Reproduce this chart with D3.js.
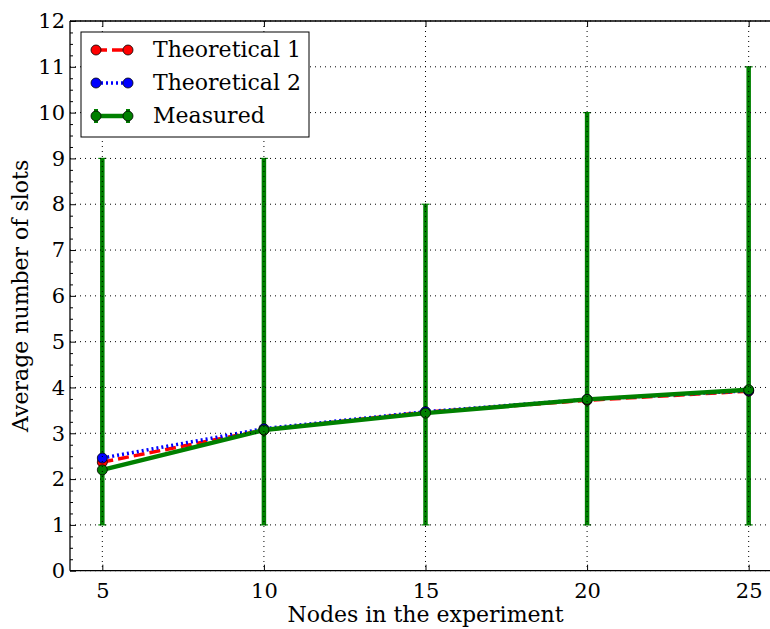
<!DOCTYPE html>
<html><head><meta charset="utf-8">
<script src="https://cdn.jsdelivr.net/npm/d3@7/dist/d3.min.js"></script>
<style>body{margin:0;background:#fff;} svg{display:block;} text{font-family:"DejaVu Serif",serif;}</style>
</head><body>
<svg id="c" width="770" height="629"></svg>
<script>
const nodes = [5, 10, 15, 20, 25];
const theoretical1 = [2.37, 3.07, 3.46, 3.72, 3.92];
const theoretical2 = [2.46, 3.10, 3.47, 3.74, 3.93];
const measured = [2.2, 3.07, 3.44, 3.74, 3.95];
const measuredLow = [1, 1, 1, 1, 1];
const measuredHigh = [9, 9, 8, 10, 11];
const xTicks = [5, 10, 15, 20, 25];
const yTicks = [0,1,2,3,4,5,6,7,8,9,10,11,12];
const seriesNames = ["Theoretical 1", "Theoretical 2", "Measured"];

const svg = d3.select("#c");
const L = 70, R = 781, T = 21, B = 570.7;
const x = d3.scaleLinear().domain([4, 26]).range([L, R]);
const y = d3.scaleLinear().domain([0, 12]).range([B, T]);
const green = "#008000";

const plot = svg.append("g");
// error bars
nodes.forEach((n, i) => {
  plot.append("line").attr("x1", x(n)).attr("x2", x(n))
    .attr("y1", y(measuredLow[i])).attr("y2", y(measuredHigh[i]))
    .attr("stroke", green).attr("stroke-width", 4.5);
  [measuredLow[i], measuredHigh[i]].forEach(v => {
    plot.append("line").attr("x1", x(n) - 4).attr("x2", x(n) + 4)
      .attr("y1", y(v)).attr("y2", y(v)).attr("stroke", green).attr("stroke-width", 1.2);
  });
});
const line = d3.line().x((d, i) => x(nodes[i])).y(d => y(d));
function series(vals, color, width, dash) {
  plot.append("path").datum(vals).attr("d", line).attr("fill", "none")
    .attr("stroke", color).attr("stroke-width", width)
    .attr("stroke-dasharray", dash);
  plot.selectAll(null).data(vals).enter().append("circle")
    .attr("cx", (d, i) => x(nodes[i])).attr("cy", d => y(d)).attr("r", 5)
    .attr("fill", color).attr("stroke", "#000").attr("stroke-width", 0.8);
}
series(theoretical1, "#ff0000", 3.5, "11,5");
series(theoretical2, "#0000ff", 3.5, "2,3");
series(measured, green, 4.5, null);

// grid
const grid = svg.append("g").attr("stroke", "#000").attr("stroke-width", 1).attr("stroke-dasharray", "1,4");
yTicks.forEach(t => grid.append("line").attr("x1", L).attr("x2", R).attr("y1", y(t)).attr("y2", y(t)));
xTicks.forEach(t => grid.append("line").attr("y1", T).attr("y2", B).attr("x1", x(t)).attr("x2", x(t)));

// axes with inward ticks
const ax = svg.append("g");
ax.append("g").attr("transform", `translate(0,${B})`)
  .call(d3.axisBottom(x).tickValues(xTicks).tickSize(-6).tickPadding(12).tickFormat(d3.format("d")));
ax.append("g").attr("transform", `translate(0,${T})`)
  .call(d3.axisTop(x).tickValues(xTicks).tickSize(-6).tickFormat(""));
ax.append("g").attr("transform", `translate(${L},0)`)
  .call(d3.axisLeft(y).tickValues(yTicks).tickSize(-6).tickPadding(5).tickFormat(d3.format("d")));
ax.append("g").attr("transform", `translate(${L},0)`)
  .call(d3.axisLeft(y).tickValues(d3.range(0, 12.01, 0.25).filter(v => v % 1 !== 0)).tickSize(-3).tickFormat(""));
ax.selectAll(".domain").remove();
ax.selectAll("line").attr("stroke", "#000").attr("stroke-width", 1);
ax.selectAll("text").attr("font-size", "21px").attr("fill", "#000").attr("font-family", "DejaVu Serif");
// spines
svg.append("line").attr("x1", L).attr("x2", R).attr("y1", B).attr("y2", B).attr("stroke", "#000").attr("stroke-width", 1.3);
svg.append("line").attr("x1", L).attr("x2", R).attr("y1", T).attr("y2", T).attr("stroke", "#000").attr("stroke-width", 1.3);
svg.append("line").attr("x1", L).attr("x2", L).attr("y1", T).attr("y2", B).attr("stroke", "#000").attr("stroke-width", 1.3);

// labels
svg.append("text").attr("x", (L + R) / 2).attr("y", 622).attr("text-anchor", "middle")
  .attr("font-size", "22px").text("Nodes in the experiment");
svg.append("text").attr("transform", `translate(28,${(T + B) / 2}) rotate(-90)`).attr("text-anchor", "middle")
  .attr("font-size", "22px").text("Average number of slots");

// legend
const lg = svg.append("g");
lg.append("rect").attr("x", 81).attr("y", 32).attr("width", 228).attr("height", 105)
  .attr("fill", "#fff").attr("stroke", "#000").attr("stroke-width", 1);
const entries = [
  {name: seriesNames[0], color: "#ff0000", dash: "11,5", w: 3.5, err: false},
  {name: seriesNames[1], color: "#0000ff", dash: "2,3", w: 3.5, err: false},
  {name: seriesNames[2], color: green, dash: null, w: 4.5, err: true}
];
entries.forEach((e, i) => {
  const cy = 50 + i * 33;
  if (e.err) {
    [96, 128].forEach(px => lg.append("line").attr("x1", px).attr("x2", px).attr("y1", cy - 7).attr("y2", cy + 7)
      .attr("stroke", green).attr("stroke-width", 4));
  }
  lg.append("line").attr("x1", 96).attr("x2", 128).attr("y1", cy).attr("y2", cy)
    .attr("stroke", e.color).attr("stroke-width", e.w).attr("stroke-dasharray", e.dash);
  [96, 128].forEach(px => lg.append("circle").attr("cx", px).attr("cy", cy).attr("r", 5)
    .attr("fill", e.color).attr("stroke", "#000").attr("stroke-width", 0.8));
  lg.append("text").attr("x", 153).attr("y", cy + 7).attr("font-size", "22px").text(e.name);
});
</script>
</body></html>
